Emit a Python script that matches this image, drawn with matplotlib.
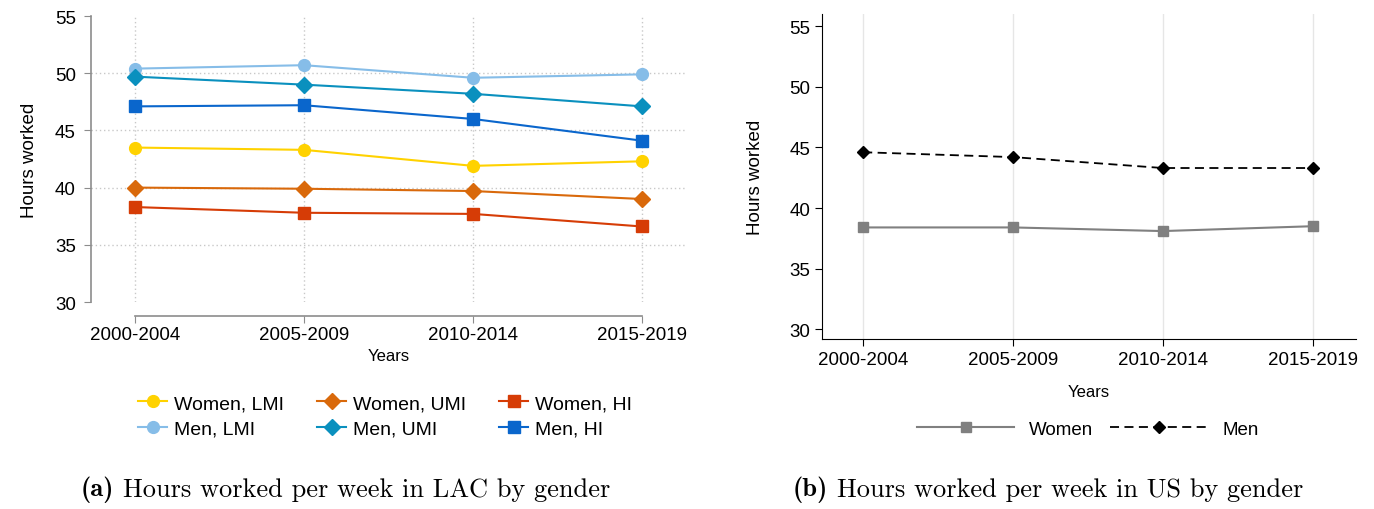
import matplotlib
matplotlib.use("Agg")
import matplotlib.pyplot as plt

plt.rcParams['font.family'] = ['Liberation Sans', 'DejaVu Sans']

# data
periods = ['2000-2004', '2005-2009', '2010-2014', '2015-2019']

women_lmi = [43.5, 43.3, 41.9, 42.3]
women_umi = [40.0, 39.9, 39.7, 39.0]
women_hi = [38.3, 37.8, 37.7, 36.6]
men_lmi = [50.4, 50.7, 49.6, 49.9]
men_umi = [49.7, 49.0, 48.2, 47.1]
men_hi = [47.1, 47.2, 46.0, 44.1]

us_women = [38.4, 38.4, 38.1, 38.5]
us_men = [44.6, 44.2, 43.3, 43.3]

yticks = [30, 35, 40, 45, 50, 55]

W, H = 1374, 510
fig = plt.figure(figsize=(W / 100, H / 100), dpi=100)


def px_axes(x0, y0, x1, y1):
    # pixel box (top-left origin) -> figure axes
    return fig.add_axes([x0 / W, 1 - y1 / H, (x1 - x0) / W, (y1 - y0) / H])


x = list(range(len(periods)))

# ---------------- panel (a) ----------------
ax1 = px_axes(91, 17, 686, 303)
series = [
    ('Women, LMI', women_lmi, '#FFD200', 'o', 8.5),
    ('Women, UMI', women_umi, '#D9690B', 'D', 8),
    ('Women, HI', women_hi, '#D63C06', 's', 8.5),
    ('Men, LMI', men_lmi, '#86BDE8', 'o', 8.5),
    ('Men, UMI', men_umi, '#0A90BE', 'D', 8),
    ('Men, HI', men_hi, '#0A66CC', 's', 8.5),
]
handles = {}
for name, vals, col, mk, ms in series:
    h, = ax1.plot(x, vals, color=col, marker=mk, ms=ms, lw=1.5, label=name)
    handles[name] = h

ax1.set_xlim(-0.26, 3.26)
ax1.set_ylim(30, 55)
ax1.set_yticks(yticks)
ax1.set_xticks(x)
ax1.set_xticklabels(periods)
for y in [35, 40, 45, 50]:
    ax1.axhline(y, color='#c8c8c8', lw=1, ls=(0, (1, 2)), zorder=0)
for xi in x:
    ax1.axvline(xi, color='#c8c8c8', lw=1, ls=(0, (1, 2)), zorder=0)
for s in ['top', 'right']:
    ax1.spines[s].set_visible(False)
ax1.spines['bottom'].set_position(('outward', 10))
ax1.spines['bottom'].set_bounds(0, 3)
ax1.spines['left'].set_bounds(30, 55)
for s in ['bottom', 'left']:
    ax1.spines[s].set_color('#8c8c8c')
    ax1.spines[s].set_linewidth(1.2)
ax1.tick_params(colors='#8c8c8c', labelcolor='black', labelsize=13.5, length=5)
ax1.tick_params(axis='x', pad=2)
ax1.tick_params(axis='y', pad=6)
ax1.set_ylabel('Hours worked', fontsize=13.5, labelpad=12)
ax1.set_xlabel('Years', fontsize=12, labelpad=4)

order = ['Women, LMI', 'Men, LMI', 'Women, UMI', 'Men, UMI', 'Women, HI', 'Men, HI']
fig.legend([handles[n] for n in order], order, ncol=3, loc='center',
           bbox_to_anchor=(385 / W, 1 - 417 / H), frameon=False, fontsize=14,
           handlelength=1.5, handletextpad=0.35, columnspacing=1.7,
           labelspacing=0.4)

# ---------------- panel (b) ----------------
ax2 = px_axes(822, 15, 1356, 340)
hw, = ax2.plot(x, us_women, color='#808080', marker='s', ms=7.5, lw=1.5)
hm, = ax2.plot(x, us_men, color='black', marker='D', ms=6.5, lw=1.3,
               ls=(0, (5, 3)))
ax2.set_xlim(-0.275, 3.29)
ax2.set_ylim(29.2, 56.0)
ax2.set_yticks(yticks)
ax2.set_xticks(x)
ax2.set_xticklabels(periods)
for xi in x:
    ax2.axvline(xi, color='#e6e6e6', lw=1, zorder=0)
for s in ['top', 'right']:
    ax2.spines[s].set_visible(False)
ax2.tick_params(labelsize=13.5, length=5)
ax2.set_ylabel('Hours worked', fontsize=13.5, labelpad=18)
ax2.set_xlabel('Years', fontsize=12, labelpad=12)
fig.legend([hw, hm], ['Women', 'Men'], ncol=2, loc='center',
           bbox_to_anchor=(1088 / W, 1 - 430 / H), frameon=False, fontsize=13.5,
           handlelength=5.2, handletextpad=0.8, columnspacing=0.9)

# captions
for cx, lab, txt in [(345, '(a)', 'Hours worked per week in LAC by gender'),
                     (1048, '(b)', 'Hours worked per week in US by gender')]:
    t = fig.text(cx / W, 1 - 490 / H, lab + ' ' + txt, ha='center', va='center',
                 fontsize=19, family='cmr10', color='white')
    fig.canvas.draw()
    bb = t.get_window_extent()
    t.set_visible(False)
    x0 = bb.x0 / W
    tb = fig.text(x0, 1 - 490 / H, lab, ha='left', va='center', fontsize=19,
                  family='cmb10')
    fig.canvas.draw()
    bb2 = tb.get_window_extent()
    fig.text(bb2.x1 / W + 9 / W, 1 - 490 / H, txt, ha='left', va='center',
             fontsize=19, family='cmr10')

fig.savefig('out.png', dpi=100)
